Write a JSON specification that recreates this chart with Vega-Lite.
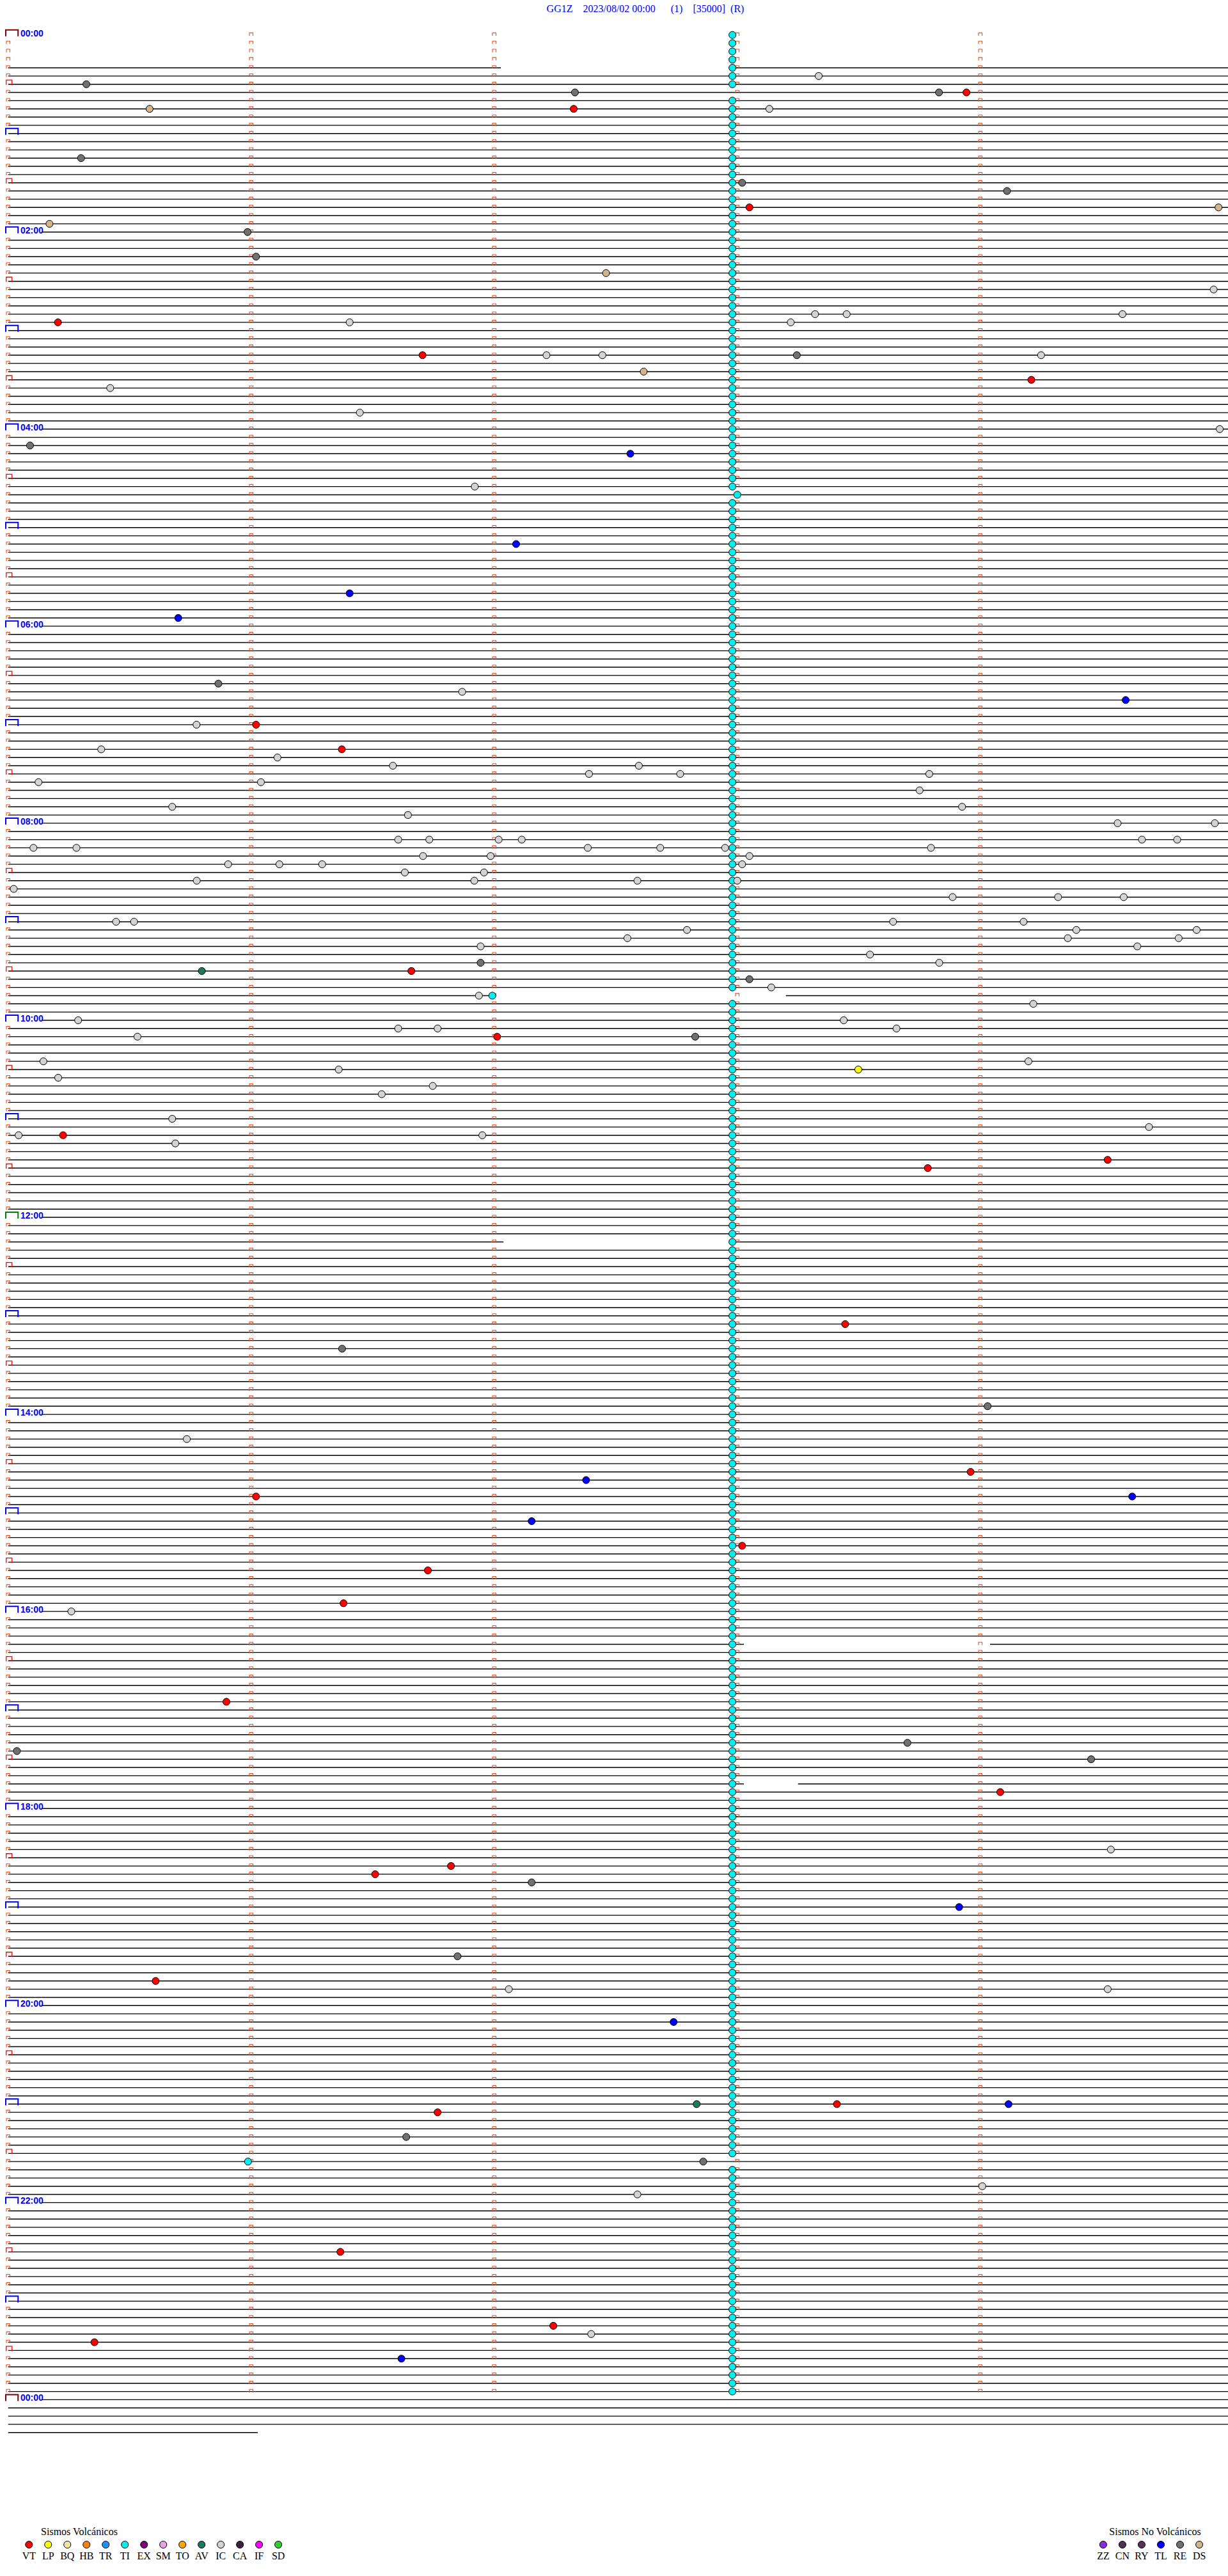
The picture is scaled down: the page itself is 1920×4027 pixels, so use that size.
{
"$schema": "https://vega.github.io/schema/vega-lite/v6.json",
"width": 1920, "height": 4027, "autosize": {"type": "none"}, "padding": 0,
"background": "white",
"config": {"view": {"stroke": null}},
"resolve": {"scale": {"x": "independent"}},
"datasets": {
"rows": [{"r":0},{"r":1},{"r":2},{"r":3},{"r":4},{"r":5},{"r":6},{"r":7},{"r":8},{"r":9},{"r":10},{"r":11},{"r":12},{"r":13},{"r":14},{"r":15},{"r":16},{"r":17},{"r":18},{"r":19},{"r":20},{"r":21},{"r":22},{"r":23},{"r":24},{"r":25},{"r":26},{"r":27},{"r":28},{"r":29},{"r":30},{"r":31},{"r":32},{"r":33},{"r":34},{"r":35},{"r":36},{"r":37},{"r":38},{"r":39},{"r":40},{"r":41},{"r":42},{"r":43},{"r":44},{"r":45},{"r":46},{"r":47},{"r":48},{"r":49},{"r":50},{"r":51},{"r":52},{"r":53},{"r":54},{"r":55},{"r":56},{"r":57},{"r":58},{"r":59},{"r":60},{"r":61},{"r":62},{"r":63},{"r":64},{"r":65},{"r":66},{"r":67},{"r":68},{"r":69},{"r":70},{"r":71},{"r":72},{"r":73},{"r":74},{"r":75},{"r":76},{"r":77},{"r":78},{"r":79},{"r":80},{"r":81},{"r":82},{"r":83},{"r":84},{"r":85},{"r":86},{"r":87},{"r":88},{"r":89},{"r":90},{"r":91},{"r":92},{"r":93},{"r":94},{"r":95},{"r":96},{"r":97},{"r":98},{"r":99},{"r":100},{"r":101},{"r":102},{"r":103},{"r":104},{"r":105},{"r":106},{"r":107},{"r":108},{"r":109},{"r":110},{"r":111},{"r":112},{"r":113},{"r":114},{"r":115},{"r":116},{"r":117},{"r":118},{"r":119},{"r":120},{"r":121},{"r":122},{"r":123},{"r":124},{"r":125},{"r":126},{"r":127},{"r":128},{"r":129},{"r":130},{"r":131},{"r":132},{"r":133},{"r":134},{"r":135},{"r":136},{"r":137},{"r":138},{"r":139},{"r":140},{"r":141},{"r":142},{"r":143},{"r":144},{"r":145},{"r":146},{"r":147},{"r":148},{"r":149},{"r":150},{"r":151},{"r":152},{"r":153},{"r":154},{"r":155},{"r":156},{"r":157},{"r":158},{"r":159},{"r":160},{"r":161},{"r":162},{"r":163},{"r":164},{"r":165},{"r":166},{"r":167},{"r":168},{"r":169},{"r":170},{"r":171},{"r":172},{"r":173},{"r":174},{"r":175},{"r":176},{"r":177},{"r":178},{"r":179},{"r":180},{"r":181},{"r":182},{"r":183},{"r":184},{"r":185},{"r":186},{"r":187},{"r":188},{"r":189},{"r":190},{"r":191},{"r":192},{"r":193},{"r":194},{"r":195},{"r":196},{"r":197},{"r":198},{"r":199},{"r":200},{"r":201},{"r":202},{"r":203},{"r":204},{"r":205},{"r":206},{"r":207},{"r":208},{"r":209},{"r":210},{"r":211},{"r":212},{"r":213},{"r":214},{"r":215},{"r":216},{"r":217},{"r":218},{"r":219},{"r":220},{"r":221},{"r":222},{"r":223},{"r":224},{"r":225},{"r":226},{"r":227},{"r":228},{"r":229},{"r":230},{"r":231},{"r":232},{"r":233},{"r":234},{"r":235},{"r":236},{"r":237},{"r":238},{"r":239},{"r":240},{"r":241},{"r":242},{"r":243},{"r":244},{"r":245},{"r":246},{"r":247},{"r":248},{"r":249},{"r":250},{"r":251},{"r":252},{"r":253},{"r":254},{"r":255},{"r":256},{"r":257},{"r":258},{"r":259},{"r":260},{"r":261},{"r":262},{"r":263},{"r":264},{"r":265},{"r":266},{"r":267},{"r":268},{"r":269},{"r":270},{"r":271},{"r":272},{"r":273},{"r":274},{"r":275},{"r":276},{"r":277},{"r":278},{"r":279},{"r":280},{"r":281},{"r":282},{"r":283},{"r":284},{"r":285},{"r":286},{"r":287},{"r":288}],
"segs": [{"r":4,"a":0,"b":2.027},{"r":4,"a":2.993,"b":5.05},
{"r":5,"a":0,"b":5.05},{"r":6,"a":0,"b":5.05},{"r":7,"a":0,"b":5.05},{"r":8,"a":0,"b":5.05},{"r":9,"a":0,"b":5.05},{"r":10,"a":0,"b":5.05},{"r":11,"a":0,"b":5.05},{"r":12,"a":0,"b":5.05},{"r":13,"a":0,"b":5.05},{"r":14,"a":0,"b":5.05},{"r":15,"a":0,"b":5.05},{"r":16,"a":0,"b":5.05},{"r":17,"a":0,"b":5.05},{"r":18,"a":0,"b":5.05},{"r":19,"a":0,"b":5.05},{"r":20,"a":0,"b":5.05},{"r":21,"a":0,"b":5.05},{"r":22,"a":0,"b":5.05},{"r":23,"a":0,"b":5.05},
{"r":24,"a":0.1375,"b":5.05},
{"r":25,"a":0,"b":5.05},{"r":26,"a":0,"b":5.05},{"r":27,"a":0,"b":5.05},{"r":28,"a":0,"b":5.05},{"r":29,"a":0,"b":5.05},{"r":30,"a":0,"b":5.05},{"r":31,"a":0,"b":5.05},{"r":32,"a":0,"b":5.05},{"r":33,"a":0,"b":5.05},{"r":34,"a":0,"b":5.05},{"r":35,"a":0,"b":5.05},{"r":36,"a":0,"b":5.05},{"r":37,"a":0,"b":5.05},{"r":38,"a":0,"b":5.05},{"r":39,"a":0,"b":5.05},{"r":40,"a":0,"b":5.05},{"r":41,"a":0,"b":5.05},{"r":42,"a":0,"b":5.05},{"r":43,"a":0,"b":5.05},{"r":44,"a":0,"b":5.05},{"r":45,"a":0,"b":5.05},{"r":46,"a":0,"b":5.05},{"r":47,"a":0,"b":5.05},
{"r":48,"a":0.1375,"b":5.05},
{"r":49,"a":0,"b":5.05},{"r":50,"a":0,"b":5.05},{"r":51,"a":0,"b":5.05},{"r":52,"a":0,"b":5.05},{"r":53,"a":0,"b":5.05},{"r":54,"a":0,"b":5.05},{"r":55,"a":0,"b":5.05},{"r":56,"a":0,"b":5.05},{"r":57,"a":0,"b":5.05},{"r":58,"a":0,"b":5.05},{"r":59,"a":0,"b":5.05},{"r":60,"a":0,"b":5.05},{"r":61,"a":0,"b":5.05},{"r":62,"a":0,"b":5.05},{"r":63,"a":0,"b":5.05},{"r":64,"a":0,"b":5.05},{"r":65,"a":0,"b":5.05},{"r":66,"a":0,"b":5.05},{"r":67,"a":0,"b":5.05},{"r":68,"a":0,"b":5.05},{"r":69,"a":0,"b":5.05},{"r":70,"a":0,"b":5.05},{"r":71,"a":0,"b":5.05},
{"r":72,"a":0.1375,"b":5.05},
{"r":73,"a":0,"b":5.05},{"r":74,"a":0,"b":5.05},{"r":75,"a":0,"b":5.05},{"r":76,"a":0,"b":5.05},{"r":77,"a":0,"b":5.05},{"r":78,"a":0,"b":5.05},{"r":79,"a":0,"b":5.05},{"r":80,"a":0,"b":5.05},{"r":81,"a":0,"b":5.05},{"r":82,"a":0,"b":5.05},{"r":83,"a":0,"b":5.05},{"r":84,"a":0,"b":5.05},{"r":85,"a":0,"b":5.05},{"r":86,"a":0,"b":5.05},{"r":87,"a":0,"b":5.05},{"r":88,"a":0,"b":5.05},{"r":89,"a":0,"b":5.05},{"r":90,"a":0,"b":5.05},{"r":91,"a":0,"b":5.05},{"r":92,"a":0,"b":5.05},{"r":93,"a":0,"b":5.05},{"r":94,"a":0,"b":5.05},{"r":95,"a":0,"b":5.05},
{"r":96,"a":0.1375,"b":5.05},
{"r":97,"a":0,"b":5.05},{"r":98,"a":0,"b":5.05},{"r":99,"a":0,"b":5.05},{"r":100,"a":0,"b":5.05},{"r":101,"a":0,"b":5.05},{"r":102,"a":0,"b":5.05},{"r":103,"a":0,"b":5.05},{"r":104,"a":0,"b":5.05},{"r":105,"a":0,"b":5.05},{"r":106,"a":0,"b":5.05},{"r":107,"a":0,"b":5.05},{"r":108,"a":0,"b":5.05},{"r":109,"a":0,"b":5.05},{"r":110,"a":0,"b":5.05},{"r":111,"a":0,"b":5.05},{"r":112,"a":0,"b":5.05},{"r":113,"a":0,"b":5.05},{"r":114,"a":0,"b":5.05},{"r":115,"a":0,"b":5.05},{"r":116,"a":0,"b":5.05},
{"r":117,"a":0,"b":2.0},{"r":117,"a":3.2,"b":5.05},
{"r":118,"a":0,"b":5.05},{"r":119,"a":0,"b":5.05},
{"r":120,"a":0.1375,"b":5.05},
{"r":121,"a":0,"b":5.05},{"r":122,"a":0,"b":5.05},{"r":123,"a":0,"b":5.05},{"r":124,"a":0,"b":5.05},{"r":125,"a":0,"b":5.05},{"r":126,"a":0,"b":5.05},{"r":127,"a":0,"b":5.05},{"r":128,"a":0,"b":5.05},{"r":129,"a":0,"b":5.05},{"r":130,"a":0,"b":5.05},{"r":131,"a":0,"b":5.05},{"r":132,"a":0,"b":5.05},{"r":133,"a":0,"b":5.05},{"r":134,"a":0,"b":5.05},{"r":135,"a":0,"b":5.05},{"r":136,"a":0,"b":5.05},{"r":137,"a":0,"b":5.05},{"r":138,"a":0,"b":5.05},{"r":139,"a":0,"b":5.05},{"r":140,"a":0,"b":5.05},{"r":141,"a":0,"b":5.05},{"r":142,"a":0,"b":5.05},{"r":143,"a":0,"b":5.05},
{"r":144,"a":0.1375,"b":5.05},
{"r":145,"a":0,"b":5.05},{"r":146,"a":0,"b":5.05},
{"r":147,"a":0,"b":2.038},{"r":147,"a":2.993,"b":5.05},
{"r":148,"a":0,"b":5.05},{"r":149,"a":0,"b":5.05},{"r":150,"a":0,"b":5.05},{"r":151,"a":0,"b":5.05},{"r":152,"a":0,"b":5.05},{"r":153,"a":0,"b":5.05},{"r":154,"a":0,"b":5.05},{"r":155,"a":0,"b":5.05},{"r":156,"a":0,"b":5.05},{"r":157,"a":0,"b":5.05},{"r":158,"a":0,"b":5.05},{"r":159,"a":0,"b":5.05},{"r":160,"a":0,"b":5.05},{"r":161,"a":0,"b":5.05},{"r":162,"a":0,"b":5.05},{"r":163,"a":0,"b":5.05},{"r":164,"a":0,"b":5.05},{"r":165,"a":0,"b":5.05},{"r":166,"a":0,"b":5.05},{"r":167,"a":0,"b":5.05},
{"r":168,"a":0.1375,"b":5.05},
{"r":169,"a":0,"b":5.05},{"r":170,"a":0,"b":5.05},{"r":171,"a":0,"b":5.05},{"r":172,"a":0,"b":5.05},{"r":173,"a":0,"b":5.05},{"r":174,"a":0,"b":5.05},{"r":175,"a":0,"b":5.05},{"r":176,"a":0,"b":5.05},{"r":177,"a":0,"b":5.05},{"r":178,"a":0,"b":5.05},{"r":179,"a":0,"b":5.05},{"r":180,"a":0,"b":5.05},{"r":181,"a":0,"b":5.05},{"r":182,"a":0,"b":5.05},{"r":183,"a":0,"b":5.05},{"r":184,"a":0,"b":5.05},{"r":185,"a":0,"b":5.05},{"r":186,"a":0,"b":5.05},{"r":187,"a":0,"b":5.05},{"r":188,"a":0,"b":5.05},{"r":189,"a":0,"b":5.05},{"r":190,"a":0,"b":5.05},{"r":191,"a":0,"b":5.05},
{"r":192,"a":0.1375,"b":5.05},
{"r":193,"a":0,"b":5.05},{"r":194,"a":0,"b":5.05},{"r":195,"a":0,"b":5.05},
{"r":196,"a":0,"b":3.027},{"r":196,"a":4.04,"b":5.05},
{"r":197,"a":0,"b":5.05},{"r":198,"a":0,"b":5.05},{"r":199,"a":0,"b":5.05},{"r":200,"a":0,"b":5.05},{"r":201,"a":0,"b":5.05},{"r":202,"a":0,"b":5.05},{"r":203,"a":0,"b":5.05},{"r":204,"a":0,"b":5.05},{"r":205,"a":0,"b":5.05},{"r":206,"a":0,"b":5.05},{"r":207,"a":0,"b":5.05},{"r":208,"a":0,"b":5.05},{"r":209,"a":0,"b":5.05},{"r":210,"a":0,"b":5.05},{"r":211,"a":0,"b":5.05},{"r":212,"a":0,"b":5.05},
{"r":213,"a":0,"b":3.027},{"r":213,"a":3.25,"b":5.05},
{"r":214,"a":0,"b":5.05},{"r":215,"a":0,"b":5.05},
{"r":216,"a":0.1375,"b":5.05},
{"r":217,"a":0,"b":5.05},{"r":218,"a":0,"b":5.05},{"r":219,"a":0,"b":5.05},{"r":220,"a":0,"b":5.05},{"r":221,"a":0,"b":5.05},{"r":222,"a":0,"b":5.05},{"r":223,"a":0,"b":5.05},{"r":224,"a":0,"b":5.05},{"r":225,"a":0,"b":5.05},{"r":226,"a":0,"b":5.05},{"r":227,"a":0,"b":5.05},{"r":228,"a":0,"b":5.05},{"r":229,"a":0,"b":5.05},{"r":230,"a":0,"b":5.05},{"r":231,"a":0,"b":5.05},{"r":232,"a":0,"b":5.05},{"r":233,"a":0,"b":5.05},{"r":234,"a":0,"b":5.05},{"r":235,"a":0,"b":5.05},{"r":236,"a":0,"b":5.05},{"r":237,"a":0,"b":5.05},{"r":238,"a":0,"b":5.05},{"r":239,"a":0,"b":5.05},
{"r":240,"a":0.1375,"b":5.05},
{"r":241,"a":0,"b":5.05},{"r":242,"a":0,"b":5.05},{"r":243,"a":0,"b":5.05},{"r":244,"a":0,"b":5.05},{"r":245,"a":0,"b":5.05},{"r":246,"a":0,"b":5.05},{"r":247,"a":0,"b":5.05},{"r":248,"a":0,"b":5.05},{"r":249,"a":0,"b":5.05},{"r":250,"a":0,"b":5.05},{"r":251,"a":0,"b":5.05},{"r":252,"a":0,"b":5.05},{"r":253,"a":0,"b":5.05},{"r":254,"a":0,"b":5.05},{"r":255,"a":0,"b":5.05},{"r":256,"a":0,"b":5.05},{"r":257,"a":0,"b":5.05},{"r":258,"a":0,"b":5.05},{"r":259,"a":0,"b":5.05},{"r":260,"a":0,"b":5.05},{"r":261,"a":0,"b":5.05},{"r":262,"a":0,"b":5.05},{"r":263,"a":0,"b":5.05},
{"r":264,"a":0.1375,"b":5.05},
{"r":265,"a":0,"b":5.05},{"r":266,"a":0,"b":5.05},{"r":267,"a":0,"b":5.05},{"r":268,"a":0,"b":5.05},{"r":269,"a":0,"b":5.05},{"r":270,"a":0,"b":5.05},{"r":271,"a":0,"b":5.05},{"r":272,"a":0,"b":5.05},{"r":273,"a":0,"b":5.05},{"r":274,"a":0,"b":5.05},{"r":275,"a":0,"b":5.05},{"r":276,"a":0,"b":5.05},{"r":277,"a":0,"b":5.05},{"r":278,"a":0,"b":5.05},{"r":279,"a":0,"b":5.05},{"r":280,"a":0,"b":5.05},{"r":281,"a":0,"b":5.05},{"r":282,"a":0,"b":5.05},{"r":283,"a":0,"b":5.05},{"r":284,"a":0,"b":5.05},{"r":285,"a":0,"b":5.05},{"r":286,"a":0,"b":5.05},{"r":287,"a":0,"b":5.05},
{"r":288,"a":0.1375,"b":5.05},
{"r":289,"a":0,"b":5.05},{"r":290,"a":0,"b":5.05},{"r":291,"a":0,"b":5.05},{"r":292,"a":0,"b":1.027}],
"ev": [
{"r":0,"m":2.98,"t":"TI"},{"r":1,"m":2.98,"t":"TI"},{"r":2,"m":2.98,"t":"TI"},{"r":3,"m":2.98,"t":"TI"},{"r":4,"m":2.98,"t":"TI"},{"r":5,"m":2.98,"t":"TI"},{"r":6,"m":2.98,"t":"TI"},{"r":8,"m":2.98,"t":"TI"},{"r":9,"m":2.98,"t":"TI"},{"r":10,"m":2.98,"t":"TI"},{"r":11,"m":2.98,"t":"TI"},{"r":12,"m":2.98,"t":"TI"},{"r":13,"m":2.98,"t":"TI"},{"r":14,"m":2.98,"t":"TI"},{"r":15,"m":2.98,"t":"TI"},{"r":16,"m":2.98,"t":"TI"},{"r":17,"m":2.98,"t":"TI"},{"r":18,"m":2.98,"t":"TI"},{"r":19,"m":2.98,"t":"TI"},{"r":20,"m":2.98,"t":"TI"},{"r":21,"m":2.98,"t":"TI"},{"r":22,"m":2.98,"t":"TI"},{"r":23,"m":2.98,"t":"TI"},{"r":24,"m":2.98,"t":"TI"},{"r":25,"m":2.98,"t":"TI"},{"r":26,"m":2.98,"t":"TI"},{"r":27,"m":2.98,"t":"TI"},{"r":28,"m":2.98,"t":"TI"},{"r":29,"m":2.98,"t":"TI"},{"r":30,"m":2.98,"t":"TI"},{"r":31,"m":2.98,"t":"TI"},{"r":32,"m":2.98,"t":"TI"},{"r":33,"m":2.98,"t":"TI"},{"r":34,"m":2.98,"t":"TI"},{"r":35,"m":2.98,"t":"TI"},{"r":36,"m":2.98,"t":"TI"},{"r":37,"m":2.98,"t":"TI"},{"r":38,"m":2.98,"t":"TI"},{"r":39,"m":2.98,"t":"TI"},{"r":40,"m":2.98,"t":"TI"},{"r":41,"m":2.98,"t":"TI"},{"r":42,"m":2.98,"t":"TI"},{"r":43,"m":2.98,"t":"TI"},{"r":44,"m":2.98,"t":"TI"},{"r":45,"m":2.98,"t":"TI"},{"r":46,"m":2.98,"t":"TI"},{"r":47,"m":2.98,"t":"TI"},{"r":48,"m":2.98,"t":"TI"},{"r":49,"m":2.98,"t":"TI"},{"r":50,"m":2.98,"t":"TI"},{"r":51,"m":2.98,"t":"TI"},{"r":52,"m":2.98,"t":"TI"},{"r":53,"m":2.98,"t":"TI"},{"r":54,"m":2.98,"t":"TI"},{"r":55,"m":2.98,"t":"TI"},{"r":56,"m":3.0,"t":"TI"},{"r":57,"m":2.98,"t":"TI"},{"r":58,"m":2.98,"t":"TI"},{"r":59,"m":2.98,"t":"TI"},{"r":60,"m":2.98,"t":"TI"},{"r":61,"m":2.98,"t":"TI"},{"r":62,"m":2.98,"t":"TI"},{"r":63,"m":2.98,"t":"TI"},{"r":64,"m":2.98,"t":"TI"},{"r":65,"m":2.98,"t":"TI"},{"r":66,"m":2.98,"t":"TI"},{"r":67,"m":2.98,"t":"TI"},{"r":68,"m":2.98,"t":"TI"},{"r":69,"m":2.98,"t":"TI"},{"r":70,"m":2.98,"t":"TI"},{"r":71,"m":2.98,"t":"TI"},{"r":72,"m":2.98,"t":"TI"},{"r":73,"m":2.98,"t":"TI"},{"r":74,"m":2.98,"t":"TI"},{"r":75,"m":2.98,"t":"TI"},{"r":76,"m":2.98,"t":"TI"},{"r":77,"m":2.98,"t":"TI"},{"r":78,"m":2.98,"t":"TI"},{"r":79,"m":2.98,"t":"TI"},{"r":80,"m":2.98,"t":"TI"},{"r":81,"m":2.98,"t":"TI"},{"r":82,"m":2.98,"t":"TI"},{"r":83,"m":2.98,"t":"TI"},{"r":84,"m":2.98,"t":"TI"},{"r":85,"m":2.98,"t":"TI"},{"r":86,"m":2.98,"t":"TI"},{"r":87,"m":2.98,"t":"TI"},{"r":88,"m":2.98,"t":"TI"},{"r":89,"m":2.98,"t":"TI"},{"r":90,"m":2.98,"t":"TI"},{"r":91,"m":2.98,"t":"TI"},{"r":92,"m":2.98,"t":"TI"},{"r":93,"m":2.98,"t":"TI"},{"r":94,"m":2.98,"t":"TI"},{"r":95,"m":2.98,"t":"TI"},{"r":96,"m":2.98,"t":"TI"},{"r":97,"m":2.98,"t":"TI"},{"r":98,"m":2.98,"t":"TI"},{"r":99,"m":2.98,"t":"TI"},{"r":100,"m":2.98,"t":"TI"},{"r":101,"m":2.98,"t":"TI"},{"r":102,"m":2.98,"t":"TI"},{"r":103,"m":2.98,"t":"TI"},{"r":104,"m":2.98,"t":"TI"},{"r":105,"m":2.98,"t":"TI"},{"r":106,"m":2.98,"t":"TI"},{"r":107,"m":2.98,"t":"TI"},{"r":108,"m":2.98,"t":"TI"},{"r":109,"m":2.98,"t":"TI"},{"r":110,"m":2.98,"t":"TI"},{"r":111,"m":2.98,"t":"TI"},{"r":112,"m":2.98,"t":"TI"},{"r":113,"m":2.98,"t":"TI"},{"r":114,"m":2.98,"t":"TI"},{"r":115,"m":2.98,"t":"TI"},{"r":116,"m":2.98,"t":"TI"},{"r":118,"m":2.98,"t":"TI"},{"r":119,"m":2.98,"t":"TI"},{"r":120,"m":2.98,"t":"TI"},{"r":121,"m":2.98,"t":"TI"},{"r":122,"m":2.98,"t":"TI"},{"r":123,"m":2.98,"t":"TI"},{"r":124,"m":2.98,"t":"TI"},{"r":125,"m":2.98,"t":"TI"},{"r":126,"m":2.98,"t":"TI"},{"r":127,"m":2.98,"t":"TI"},{"r":128,"m":2.98,"t":"TI"},{"r":129,"m":2.98,"t":"TI"},{"r":130,"m":2.98,"t":"TI"},{"r":131,"m":2.98,"t":"TI"},{"r":132,"m":2.98,"t":"TI"},{"r":133,"m":2.98,"t":"TI"},{"r":134,"m":2.98,"t":"TI"},{"r":135,"m":2.98,"t":"TI"},{"r":136,"m":2.98,"t":"TI"},{"r":137,"m":2.98,"t":"TI"},{"r":138,"m":2.98,"t":"TI"},{"r":139,"m":2.98,"t":"TI"},{"r":140,"m":2.98,"t":"TI"},{"r":141,"m":2.98,"t":"TI"},{"r":142,"m":2.98,"t":"TI"},{"r":143,"m":2.98,"t":"TI"},{"r":144,"m":2.98,"t":"TI"},{"r":145,"m":2.98,"t":"TI"},{"r":146,"m":2.98,"t":"TI"},{"r":147,"m":2.98,"t":"TI"},{"r":148,"m":2.98,"t":"TI"},{"r":149,"m":2.98,"t":"TI"},{"r":150,"m":2.98,"t":"TI"},{"r":151,"m":2.98,"t":"TI"},{"r":152,"m":2.98,"t":"TI"},{"r":153,"m":2.98,"t":"TI"},{"r":154,"m":2.98,"t":"TI"},{"r":155,"m":2.98,"t":"TI"},{"r":156,"m":2.98,"t":"TI"},{"r":157,"m":2.98,"t":"TI"},{"r":158,"m":2.98,"t":"TI"},{"r":159,"m":2.98,"t":"TI"},{"r":160,"m":2.98,"t":"TI"},{"r":161,"m":2.98,"t":"TI"},{"r":162,"m":2.98,"t":"TI"},{"r":163,"m":2.98,"t":"TI"},{"r":164,"m":2.98,"t":"TI"},{"r":165,"m":2.98,"t":"TI"},{"r":166,"m":2.98,"t":"TI"},{"r":167,"m":2.98,"t":"TI"},{"r":168,"m":2.98,"t":"TI"},{"r":169,"m":2.98,"t":"TI"},{"r":170,"m":2.98,"t":"TI"},{"r":171,"m":2.98,"t":"TI"},{"r":172,"m":2.98,"t":"TI"},{"r":173,"m":2.98,"t":"TI"},{"r":174,"m":2.98,"t":"TI"},{"r":175,"m":2.98,"t":"TI"},{"r":176,"m":2.98,"t":"TI"},{"r":177,"m":2.98,"t":"TI"},{"r":178,"m":2.98,"t":"TI"},{"r":179,"m":2.98,"t":"TI"},{"r":180,"m":2.98,"t":"TI"},{"r":181,"m":2.98,"t":"TI"},{"r":182,"m":2.98,"t":"TI"},{"r":183,"m":2.98,"t":"TI"},{"r":184,"m":2.98,"t":"TI"},{"r":185,"m":2.98,"t":"TI"},{"r":186,"m":2.98,"t":"TI"},{"r":187,"m":2.98,"t":"TI"},{"r":188,"m":2.98,"t":"TI"},{"r":189,"m":2.98,"t":"TI"},{"r":190,"m":2.98,"t":"TI"},{"r":191,"m":2.98,"t":"TI"},{"r":192,"m":2.98,"t":"TI"},{"r":193,"m":2.98,"t":"TI"},{"r":194,"m":2.98,"t":"TI"},{"r":195,"m":2.98,"t":"TI"},{"r":196,"m":2.98,"t":"TI"},{"r":197,"m":2.98,"t":"TI"},{"r":198,"m":2.98,"t":"TI"},{"r":199,"m":2.98,"t":"TI"},{"r":200,"m":2.98,"t":"TI"},{"r":201,"m":2.98,"t":"TI"},{"r":202,"m":2.98,"t":"TI"},{"r":203,"m":2.98,"t":"TI"},{"r":204,"m":2.98,"t":"TI"},{"r":205,"m":2.98,"t":"TI"},{"r":206,"m":2.98,"t":"TI"},{"r":207,"m":2.98,"t":"TI"},{"r":208,"m":2.98,"t":"TI"},{"r":209,"m":2.98,"t":"TI"},{"r":210,"m":2.98,"t":"TI"},{"r":211,"m":2.98,"t":"TI"},{"r":212,"m":2.98,"t":"TI"},{"r":213,"m":2.98,"t":"TI"},{"r":214,"m":2.98,"t":"TI"},{"r":215,"m":2.98,"t":"TI"},{"r":216,"m":2.98,"t":"TI"},{"r":217,"m":2.98,"t":"TI"},{"r":218,"m":2.98,"t":"TI"},{"r":219,"m":2.98,"t":"TI"},{"r":220,"m":2.98,"t":"TI"},{"r":221,"m":2.98,"t":"TI"},{"r":222,"m":2.98,"t":"TI"},{"r":223,"m":2.98,"t":"TI"},{"r":224,"m":2.98,"t":"TI"},{"r":225,"m":2.98,"t":"TI"},{"r":226,"m":2.98,"t":"TI"},{"r":227,"m":2.98,"t":"TI"},{"r":228,"m":2.98,"t":"TI"},{"r":229,"m":2.98,"t":"TI"},{"r":230,"m":2.98,"t":"TI"},{"r":231,"m":2.98,"t":"TI"},{"r":232,"m":2.98,"t":"TI"},{"r":233,"m":2.98,"t":"TI"},{"r":234,"m":2.98,"t":"TI"},{"r":235,"m":2.98,"t":"TI"},{"r":236,"m":2.98,"t":"TI"},{"r":237,"m":2.98,"t":"TI"},{"r":238,"m":2.98,"t":"TI"},{"r":239,"m":2.98,"t":"TI"},{"r":240,"m":2.98,"t":"TI"},{"r":241,"m":2.98,"t":"TI"},{"r":242,"m":2.98,"t":"TI"},{"r":243,"m":2.98,"t":"TI"},{"r":244,"m":2.98,"t":"TI"},{"r":245,"m":2.98,"t":"TI"},{"r":246,"m":2.98,"t":"TI"},{"r":247,"m":2.98,"t":"TI"},{"r":248,"m":2.98,"t":"TI"},{"r":249,"m":2.98,"t":"TI"},{"r":250,"m":2.98,"t":"TI"},{"r":251,"m":2.98,"t":"TI"},{"r":252,"m":2.98,"t":"TI"},{"r":253,"m":2.98,"t":"TI"},{"r":254,"m":2.98,"t":"TI"},{"r":255,"m":2.98,"t":"TI"},{"r":256,"m":2.98,"t":"TI"},{"r":257,"m":2.98,"t":"TI"},{"r":258,"m":2.98,"t":"TI"},{"r":260,"m":2.98,"t":"TI"},{"r":261,"m":2.98,"t":"TI"},{"r":262,"m":2.98,"t":"TI"},{"r":263,"m":2.98,"t":"TI"},{"r":264,"m":2.98,"t":"TI"},{"r":265,"m":2.98,"t":"TI"},{"r":266,"m":2.98,"t":"TI"},{"r":267,"m":2.98,"t":"TI"},{"r":268,"m":2.98,"t":"TI"},{"r":269,"m":2.98,"t":"TI"},{"r":270,"m":2.98,"t":"TI"},{"r":271,"m":2.98,"t":"TI"},{"r":272,"m":2.98,"t":"TI"},{"r":273,"m":2.98,"t":"TI"},{"r":274,"m":2.98,"t":"TI"},{"r":275,"m":2.98,"t":"TI"},{"r":276,"m":2.98,"t":"TI"},{"r":277,"m":2.98,"t":"TI"},{"r":278,"m":2.98,"t":"TI"},{"r":279,"m":2.98,"t":"TI"},{"r":280,"m":2.98,"t":"TI"},{"r":281,"m":2.98,"t":"TI"},{"r":282,"m":2.98,"t":"TI"},{"r":283,"m":2.98,"t":"TI"},{"r":284,"m":2.98,"t":"TI"},{"r":285,"m":2.98,"t":"TI"},{"r":286,"m":2.98,"t":"TI"},{"r":287,"m":2.98,"t":"TI"},
{"r":5,"m":3.335,"t":"IC"},{"r":6,"m":0.322,"t":"RE"},{"r":7,"m":2.332,"t":"RE"},{"r":7,"m":3.83,"t":"RE"},{"r":7,"m":3.943,"t":"VT"},
{"r":9,"m":0.582,"t":"DS"},{"r":9,"m":2.327,"t":"VT"},{"r":9,"m":3.132,"t":"IC"},
{"r":15,"m":0.30,"t":"RE"},{"r":18,"m":3.02,"t":"RE"},{"r":19,"m":4.11,"t":"RE"},{"r":21,"m":3.05,"t":"VT"},{"r":21,"m":4.98,"t":"DS"},
{"r":23,"m":0.17,"t":"DS"},{"r":24,"m":0.985,"t":"RE"},{"r":27,"m":1.02,"t":"RE"},{"r":29,"m":2.46,"t":"DS"},{"r":31,"m":4.96,"t":"IC"},
{"r":34,"m":3.32,"t":"IC"},{"r":34,"m":3.45,"t":"IC"},{"r":34,"m":4.585,"t":"IC"},
{"r":35,"m":0.205,"t":"VT"},{"r":35,"m":1.405,"t":"IC"},{"r":35,"m":3.22,"t":"IC"},
{"r":39,"m":1.705,"t":"VT"},{"r":39,"m":2.215,"t":"IC"},{"r":39,"m":2.445,"t":"IC"},{"r":39,"m":3.245,"t":"RE"},{"r":39,"m":4.25,"t":"IC"},
{"r":41,"m":2.615,"t":"DS"},{"r":42,"m":4.21,"t":"VT"},{"r":43,"m":0.42,"t":"IC"},{"r":46,"m":1.447,"t":"IC"},{"r":48,"m":4.985,"t":"IC"},
{"r":50,"m":0.09,"t":"RE"},{"r":51,"m":2.56,"t":"TL"},{"r":55,"m":1.92,"t":"IC"},{"r":62,"m":2.09,"t":"TL"},{"r":68,"m":1.405,"t":"TL"},{"r":71,"m":0.70,"t":"TL"},
{"r":79,"m":0.865,"t":"RE"},{"r":80,"m":1.868,"t":"IC"},{"r":81,"m":4.598,"t":"TL"},
{"r":84,"m":0.775,"t":"IC"},{"r":84,"m":1.02,"t":"VT"},{"r":87,"m":0.383,"t":"IC"},{"r":87,"m":1.373,"t":"VT"},{"r":88,"m":1.108,"t":"IC"},
{"r":89,"m":1.583,"t":"IC"},{"r":89,"m":2.595,"t":"IC"},{"r":90,"m":2.39,"t":"IC"},{"r":90,"m":2.765,"t":"IC"},{"r":90,"m":3.79,"t":"IC"},
{"r":91,"m":0.125,"t":"IC"},{"r":91,"m":1.04,"t":"IC"},{"r":92,"m":3.75,"t":"IC"},{"r":94,"m":0.675,"t":"IC"},{"r":94,"m":3.925,"t":"IC"},{"r":95,"m":1.645,"t":"IC"},
{"r":96,"m":4.565,"t":"IC"},{"r":96,"m":4.965,"t":"IC"},
{"r":98,"m":1.605,"t":"IC"},{"r":98,"m":1.733,"t":"IC"},{"r":98,"m":2.018,"t":"IC"},{"r":98,"m":2.113,"t":"IC"},{"r":98,"m":4.665,"t":"IC"},{"r":98,"m":4.81,"t":"IC"},
{"r":99,"m":0.104,"t":"IC"},{"r":99,"m":0.281,"t":"IC"},{"r":99,"m":2.385,"t":"IC"},{"r":99,"m":2.683,"t":"IC"},{"r":99,"m":2.95,"t":"IC"},{"r":99,"m":3.797,"t":"IC"},
{"r":100,"m":1.707,"t":"IC"},{"r":100,"m":1.985,"t":"IC"},{"r":100,"m":3.05,"t":"IC"},
{"r":101,"m":0.905,"t":"IC"},{"r":101,"m":1.116,"t":"IC"},{"r":101,"m":1.292,"t":"IC"},{"r":101,"m":3.02,"t":"IC"},
{"r":102,"m":1.632,"t":"IC"},{"r":102,"m":1.958,"t":"IC"},
{"r":103,"m":0.776,"t":"IC"},{"r":103,"m":1.918,"t":"IC"},{"r":103,"m":2.589,"t":"IC"},{"r":103,"m":3.0,"t":"IC"},
{"r":104,"m":0.023,"t":"IC"},{"r":105,"m":3.886,"t":"IC"},{"r":105,"m":4.32,"t":"IC"},{"r":105,"m":4.59,"t":"IC"},
{"r":108,"m":0.444,"t":"IC"},{"r":108,"m":0.518,"t":"IC"},{"r":108,"m":3.641,"t":"IC"},{"r":108,"m":4.178,"t":"IC"},
{"r":109,"m":2.793,"t":"IC"},{"r":109,"m":4.395,"t":"IC"},{"r":109,"m":4.89,"t":"IC"},
{"r":110,"m":2.548,"t":"IC"},{"r":110,"m":4.36,"t":"IC"},{"r":110,"m":4.816,"t":"IC"},
{"r":111,"m":1.944,"t":"IC"},{"r":111,"m":4.646,"t":"IC"},{"r":112,"m":3.546,"t":"IC"},
{"r":113,"m":1.944,"t":"RE"},{"r":113,"m":3.831,"t":"IC"},{"r":114,"m":0.797,"t":"AV"},{"r":114,"m":1.659,"t":"VT"},
{"r":115,"m":3.05,"t":"RE"},{"r":116,"m":3.14,"t":"IC"},{"r":117,"m":1.937,"t":"IC"},{"r":117,"m":1.992,"t":"TI"},{"r":118,"m":4.218,"t":"IC"},
{"r":120,"m":0.288,"t":"IC"},{"r":120,"m":3.438,"t":"IC"},{"r":121,"m":1.605,"t":"IC"},{"r":121,"m":1.767,"t":"IC"},{"r":121,"m":3.655,"t":"IC"},
{"r":122,"m":0.532,"t":"IC"},{"r":122,"m":2.012,"t":"VT"},{"r":122,"m":2.827,"t":"RE"},
{"r":125,"m":0.145,"t":"IC"},{"r":125,"m":4.198,"t":"IC"},{"r":126,"m":3.498,"t":"LP"},{"r":126,"m":1.36,"t":"IC"},
{"r":127,"m":0.206,"t":"IC"},{"r":128,"m":1.747,"t":"IC"},{"r":129,"m":1.537,"t":"IC"},{"r":132,"m":0.675,"t":"IC"},{"r":133,"m":4.694,"t":"IC"},
{"r":134,"m":0.043,"t":"IC"},{"r":134,"m":0.226,"t":"VT"},{"r":134,"m":1.951,"t":"IC"},{"r":135,"m":0.688,"t":"IC"},
{"r":137,"m":4.524,"t":"VT"},{"r":138,"m":3.784,"t":"VT"},{"r":157,"m":3.444,"t":"VT"},{"r":160,"m":1.374,"t":"RE"},{"r":167,"m":4.03,"t":"RE"},
{"r":171,"m":0.735,"t":"IC"},{"r":175,"m":3.96,"t":"VT"},{"r":176,"m":2.378,"t":"TL"},{"r":178,"m":1.02,"t":"VT"},{"r":178,"m":4.625,"t":"TL"},
{"r":181,"m":2.154,"t":"TL"},{"r":184,"m":3.02,"t":"VT"},{"r":187,"m":1.727,"t":"VT"},{"r":191,"m":1.38,"t":"VT"},{"r":192,"m":0.26,"t":"IC"},
{"r":203,"m":0.898,"t":"VT"},{"r":208,"m":3.70,"t":"RE"},{"r":209,"m":0.036,"t":"RE"},{"r":210,"m":4.456,"t":"RE"},{"r":214,"m":4.082,"t":"VT"},
{"r":221,"m":4.537,"t":"IC"},{"r":223,"m":1.822,"t":"VT"},{"r":224,"m":1.51,"t":"VT"},{"r":225,"m":2.154,"t":"RE"},{"r":228,"m":3.913,"t":"TL"},
{"r":234,"m":1.849,"t":"RE"},{"r":237,"m":0.607,"t":"VT"},{"r":238,"m":2.06,"t":"IC"},{"r":238,"m":4.524,"t":"IC"},{"r":242,"m":2.738,"t":"TL"},
{"r":252,"m":2.833,"t":"AV"},{"r":252,"m":3.41,"t":"VT"},{"r":252,"m":4.116,"t":"TL"},{"r":253,"m":1.767,"t":"VT"},{"r":256,"m":1.638,"t":"RE"},
{"r":259,"m":0.987,"t":"TI"},{"r":259,"m":2.86,"t":"RE"},{"r":262,"m":4.008,"t":"IC"},{"r":263,"m":2.589,"t":"IC"},{"r":270,"m":1.367,"t":"VT"},
{"r":279,"m":2.243,"t":"VT"},{"r":280,"m":2.399,"t":"IC"},{"r":281,"m":0.355,"t":"VT"},{"r":283,"m":1.618,"t":"TL"}],
"hl": [{"r":0,"h":"00:00"},{"r":24,"h":"02:00"},{"r":48,"h":"04:00"},{"r":72,"h":"06:00"},{"r":96,"h":"08:00"},{"r":120,"h":"10:00"},{"r":144,"h":"12:00"},{"r":168,"h":"14:00"},{"r":192,"h":"16:00"},{"r":216,"h":"18:00"},{"r":240,"h":"20:00"},{"r":264,"h":"22:00"},{"r":288,"h":"00:00"}],
"lv": [{"k":"VT"},{"k":"LP"},{"k":"BQ"},{"k":"HB"},{"k":"TR"},{"k":"TI"},{"k":"EX"},{"k":"SM"},{"k":"TO"},{"k":"AV"},{"k":"IC"},{"k":"CA"},{"k":"IF"},{"k":"SD"}],
"ln": [{"k":"ZZ"},{"k":"CN"},{"k":"RY"},{"k":"TL"},{"k":"RE"},{"k":"DS"}]
},
"layer": [
{"data": {"name": "segs"},
 "mark": {"type": "rule", "stroke": "#000000", "strokeWidth": 1.4},
 "encoding": {
  "y": {"field": "r", "type": "quantitative", "scale": {"domain": [-4.2584, 309.47], "reverse": true, "nice": false, "zero": false}, "axis": null},
  "x": {"field": "a", "type": "quantitative", "scale": {"domain": [-0.033553, 5.01908], "nice": false, "zero": false}, "axis": null},
  "x2": {"field": "b"}}},
{"data": {"name": "rows"}, "transform": [{"filter": "datum.r <= 287"}],
 "mark": {"type": "point", "shape": "M-382.75,1.3V-3.3H-377.25V1.3M-2.75,1.3V-3.3H2.75V1.3M377.25,1.3V-3.3H382.75V1.3M757.25,1.3V-3.3H762.75V1.3", "size": 4, "filled": false, "stroke": "#ff4a10", "strokeWidth": 1.1, "opacity": 1},
 "encoding": {
  "y": {"field": "r", "type": "quantitative", "scale": {"domain": [-4.2584, 309.47], "reverse": true, "nice": false, "zero": false}, "axis": null},
  "x": {"datum": 2, "type": "quantitative", "scale": {"domain": [-0.033553, 5.01908], "nice": false, "zero": false}, "axis": null}}},
{"data": {"name": "rows"}, "transform": [{"filter": "datum.r <= 287 && datum.r % 6 != 0"}],
 "mark": {"type": "point", "shape": "M-2.75,1.3V-3.3H2.75V1.3", "size": 4, "filled": false, "stroke": "#ff4a10", "strokeWidth": 1.1, "opacity": 1},
 "encoding": {
  "y": {"field": "r", "type": "quantitative", "scale": {"domain": [-4.2584, 309.47], "reverse": true, "nice": false, "zero": false}, "axis": null},
  "x": {"datum": 0, "type": "quantitative", "scale": {"domain": [-0.033553, 5.01908], "nice": false, "zero": false}, "axis": null}}},
{"data": {"name": "rows"}, "transform": [{"filter": "datum.r % 12 == 6"}],
 "mark": {"type": "point", "shape": "M-3,1V-6.5H6V1", "size": 4, "filled": false, "stroke": "#ff0000", "strokeWidth": 1.3, "opacity": 1},
 "encoding": {
  "y": {"field": "r", "type": "quantitative", "scale": {"domain": [-4.2584, 309.47], "reverse": true, "nice": false, "zero": false}, "axis": null},
  "x": {"datum": 0, "type": "quantitative", "scale": {"domain": [-0.033553, 5.01908], "nice": false, "zero": false}, "axis": null}}},
{"data": {"name": "rows"}, "transform": [{"filter": "datum.r % 12 == 0"}],
 "mark": {"type": "point", "shape": "M-3.75,2V-8H15.5V2", "size": 4, "filled": false, "strokeWidth": 2, "opacity": 1},
 "encoding": {
  "y": {"field": "r", "type": "quantitative", "scale": {"domain": [-4.2584, 309.47], "reverse": true, "nice": false, "zero": false}, "axis": null},
  "x": {"datum": 0, "type": "quantitative", "scale": {"domain": [-0.033553, 5.01908], "nice": false, "zero": false}, "axis": null},
  "stroke": {"condition": [{"test": "datum.r == 0 || datum.r == 288", "value": "#800000"}, {"test": "datum.r == 144", "value": "#008000"}], "value": "#0000ff"}}},
{"data": {"name": "hl"},
 "mark": {"type": "text", "align": "left", "baseline": "alphabetic", "dy": 2, "font": "Liberation Sans", "fontWeight": "bold", "fontSize": 14, "fill": "#0000ff"},
 "encoding": {
  "y": {"field": "r", "type": "quantitative", "scale": {"domain": [-4.2584, 309.47], "reverse": true, "nice": false, "zero": false}, "axis": null},
  "x": {"datum": 0.0507, "type": "quantitative", "scale": {"domain": [-0.033553, 5.01908], "nice": false, "zero": false}, "axis": null},
  "text": {"field": "h"}}},
{"data": {"name": "ev"},
 "mark": {"type": "circle", "size": 122, "stroke": "#000000", "strokeWidth": 1, "opacity": 1},
 "encoding": {
  "y": {"field": "r", "type": "quantitative", "scale": {"domain": [-4.2584, 309.47], "reverse": true, "nice": false, "zero": false}, "axis": null},
  "x": {"field": "m", "type": "quantitative", "scale": {"domain": [-0.033553, 5.01908], "nice": false, "zero": false}, "axis": null},
  "fill": {"field": "t", "type": "nominal", "legend": null, "scale": {"domain": ["VT","LP","BQ","HB","TR","TI","EX","SM","TO","AV","IC","CA","IF","SD","ZZ","CN","RY","TL","RE","DS"], "range": ["#ff0000","#ffff00","#f0e6a0","#ff8000","#1e90ff","#00f0f0","#800080","#e8a0e8","#ffa500","#1a7a5e","#d3d3d3","#402040","#ff00ff","#32cd32","#8a2be2","#503050","#553355","#0000ff","#707070","#d2b48c"]}}}},
{"data": {"values": [{"s": "GG1Z\u00a0\u00a0\u00a0\u00a02023/08/02 00:00\u00a0\u00a0\u00a0\u00a0\u00a0\u00a0(1)\u00a0\u00a0\u00a0\u00a0[35000]\u00a0\u00a0(R)"}]},
 "mark": {"type": "text", "align": "center", "baseline": "alphabetic", "font": "Liberation Serif", "fontSize": 16, "fill": "#0000ff"},
 "encoding": {
  "y": {"datum": -2.778, "type": "quantitative", "scale": {"domain": [-4.2584, 309.47], "reverse": true, "nice": false, "zero": false}, "axis": null},
  "x": {"datum": 2.6217, "type": "quantitative", "scale": {"domain": [-0.033553, 5.01908], "nice": false, "zero": false}, "axis": null},
  "text": {"field": "s"}}},
{"data": {"values": [{"s": "Sismos Volcánicos"}]},
 "mark": {"type": "text", "align": "center", "baseline": "alphabetic", "font": "Liberation Serif", "fontSize": 16, "fill": "#000000"},
 "encoding": {
  "y": {"datum": 304.48, "type": "quantitative", "scale": {"domain": [-4.2584, 309.47], "reverse": true, "nice": false, "zero": false}, "axis": null},
  "x": {"datum": 0.2928, "type": "quantitative", "scale": {"domain": [-0.033553, 5.01908], "nice": false, "zero": false}, "axis": null},
  "text": {"field": "s"}}},
{"data": {"values": [{"s": "Sismos No Volcánicos"}]},
 "mark": {"type": "text", "align": "center", "baseline": "alphabetic", "font": "Liberation Serif", "fontSize": 16, "fill": "#000000"},
 "encoding": {
  "y": {"datum": 304.48, "type": "quantitative", "scale": {"domain": [-4.2584, 309.47], "reverse": true, "nice": false, "zero": false}, "axis": null},
  "x": {"datum": 4.7191, "type": "quantitative", "scale": {"domain": [-0.033553, 5.01908], "nice": false, "zero": false}, "axis": null},
  "text": {"field": "s"}}},
{"data": {"name": "lv"},
 "mark": {"type": "circle", "size": 122, "stroke": "#000000", "strokeWidth": 1, "opacity": 1},
 "encoding": {
  "y": {"datum": 305.65, "type": "quantitative", "scale": {"domain": [-4.2584, 309.47], "reverse": true, "nice": false, "zero": false}, "axis": null},
  "x": {"field": "k", "type": "nominal", "sort": null, "scale": {"type": "point", "domain": ["VT","LP","BQ","HB","TR","TI","EX","SM","TO","AV","IC","CA","IF","SD"], "range": [45.3, 435.1], "padding": 0}, "axis": null},
  "fill": {"field": "k", "type": "nominal", "legend": null, "scale": {"domain": ["VT","LP","BQ","HB","TR","TI","EX","SM","TO","AV","IC","CA","IF","SD","ZZ","CN","RY","TL","RE","DS"], "range": ["#ff0000","#ffff00","#f0e6a0","#ff8000","#1e90ff","#00f0f0","#800080","#e8a0e8","#ffa500","#1a7a5e","#d3d3d3","#402040","#ff00ff","#32cd32","#8a2be2","#503050","#553355","#0000ff","#707070","#d2b48c"]}}}},
{"data": {"name": "lv"},
 "mark": {"type": "text", "align": "center", "baseline": "alphabetic", "font": "Liberation Serif", "fontSize": 16, "fill": "#000000"},
 "encoding": {
  "y": {"datum": 307.48, "type": "quantitative", "scale": {"domain": [-4.2584, 309.47], "reverse": true, "nice": false, "zero": false}, "axis": null},
  "x": {"field": "k", "type": "nominal", "sort": null, "scale": {"type": "point", "domain": ["VT","LP","BQ","HB","TR","TI","EX","SM","TO","AV","IC","CA","IF","SD"], "range": [45.3, 435.1], "padding": 0}, "axis": null},
  "text": {"field": "k"}}},
{"data": {"name": "ln"},
 "mark": {"type": "circle", "size": 122, "stroke": "#000000", "strokeWidth": 1, "opacity": 1},
 "encoding": {
  "y": {"datum": 305.65, "type": "quantitative", "scale": {"domain": [-4.2584, 309.47], "reverse": true, "nice": false, "zero": false}, "axis": null},
  "x": {"field": "k", "type": "nominal", "sort": null, "scale": {"type": "point", "domain": ["ZZ","CN","RY","TL","RE","DS"], "range": [1724.9, 1875.1], "padding": 0}, "axis": null},
  "fill": {"field": "k", "type": "nominal", "legend": null, "scale": {"domain": ["VT","LP","BQ","HB","TR","TI","EX","SM","TO","AV","IC","CA","IF","SD","ZZ","CN","RY","TL","RE","DS"], "range": ["#ff0000","#ffff00","#f0e6a0","#ff8000","#1e90ff","#00f0f0","#800080","#e8a0e8","#ffa500","#1a7a5e","#d3d3d3","#402040","#ff00ff","#32cd32","#8a2be2","#503050","#553355","#0000ff","#707070","#d2b48c"]}}}},
{"data": {"name": "ln"},
 "mark": {"type": "text", "align": "center", "baseline": "alphabetic", "font": "Liberation Serif", "fontSize": 16, "fill": "#000000"},
 "encoding": {
  "y": {"datum": 307.48, "type": "quantitative", "scale": {"domain": [-4.2584, 309.47], "reverse": true, "nice": false, "zero": false}, "axis": null},
  "x": {"field": "k", "type": "nominal", "sort": null, "scale": {"type": "point", "domain": ["ZZ","CN","RY","TL","RE","DS"], "range": [1724.9, 1875.1], "padding": 0}, "axis": null},
  "text": {"field": "k"}}}
]
}
